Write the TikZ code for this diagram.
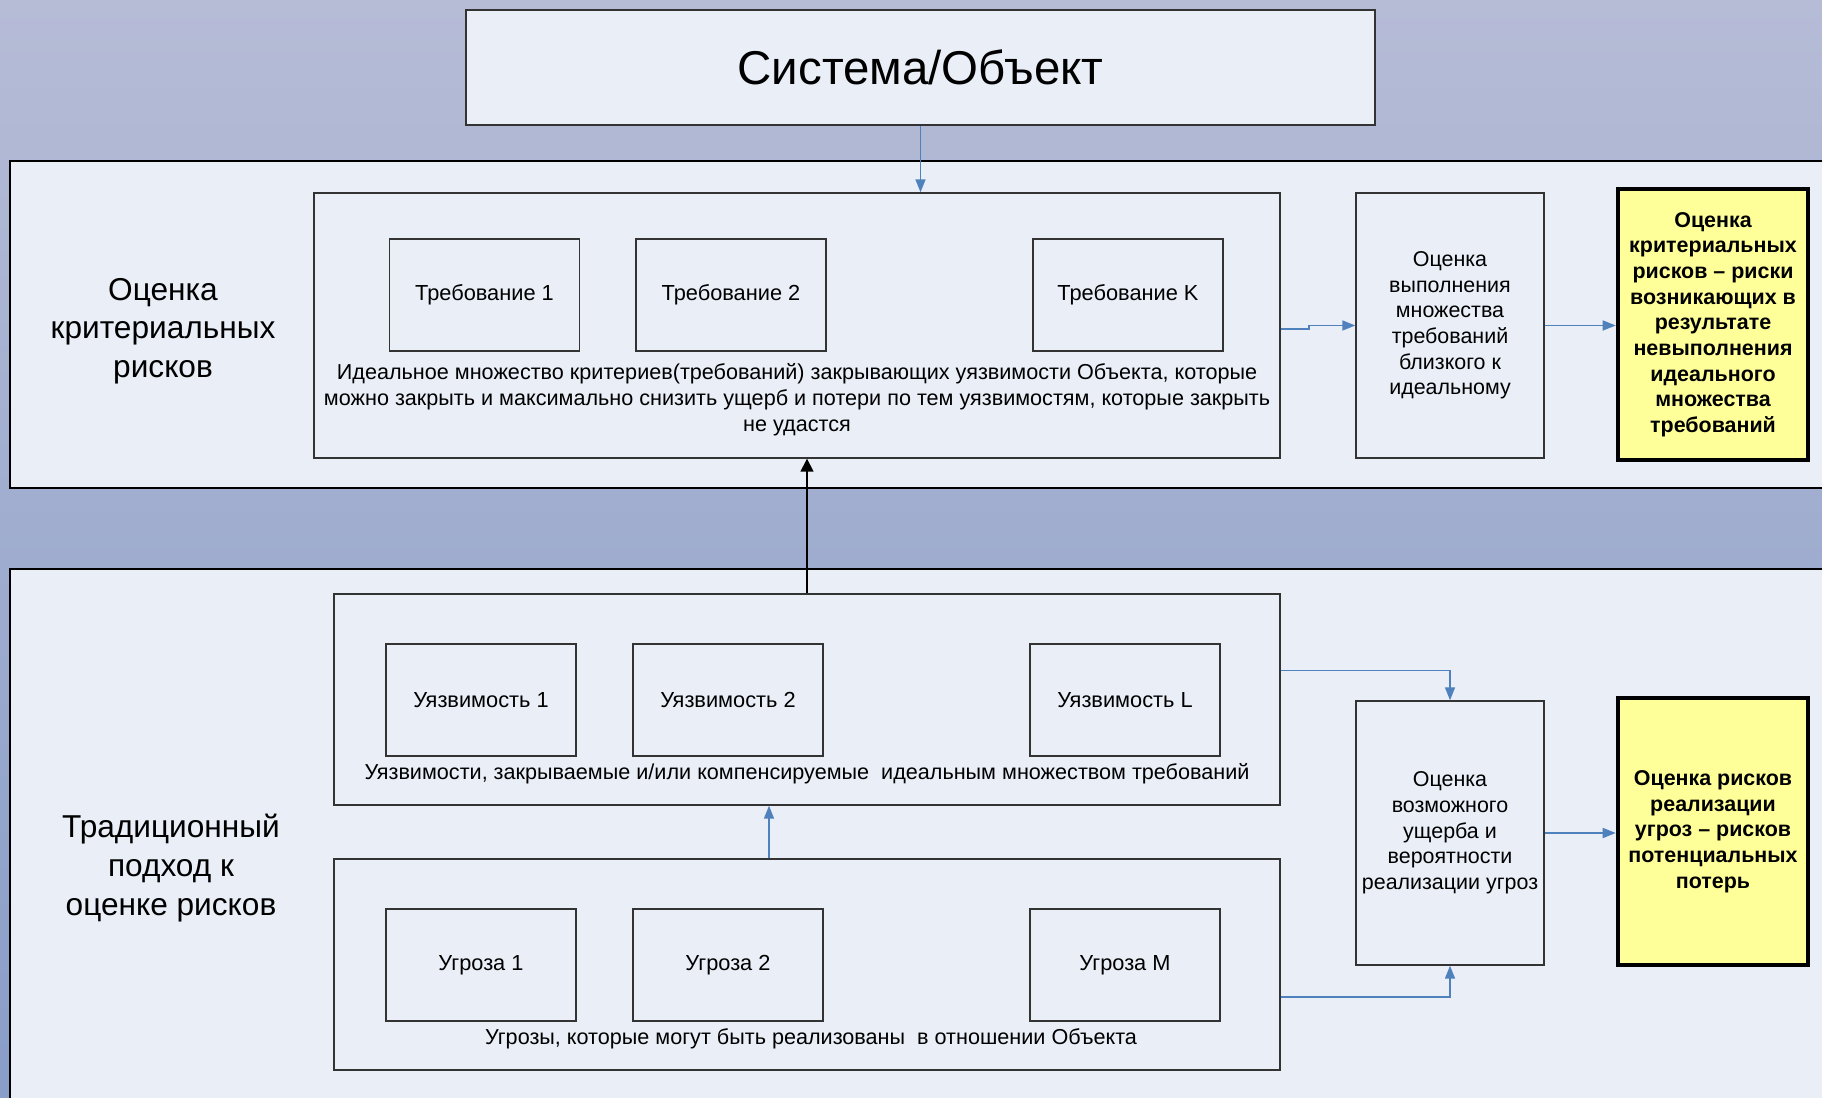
\documentclass[tikz,border=0pt]{standalone}
\usepackage{fontspec}
\setmainfont{Liberation Sans}
\usetikzlibrary{arrows.meta,positioning,calc}
\definecolor{bgtop}{RGB}{182,188,214}
\definecolor{bgbot}{RGB}{136,157,200}
\definecolor{panelfill}{RGB}{233,238,247}
\definecolor{linkblue}{RGB}{79,129,189}
\definecolor{riskyellow}{RGB}{255,255,153}
\tikzstyle{panel}=[draw=black,line width=0.75pt,fill=panelfill]
\tikzstyle{groupbox}=[rectangle,draw=black!80,line width=0.4pt,inner sep=0pt]
\tikzstyle{itembox}=[rectangle,draw=black!80,line width=0.4pt,minimum width=1.9cm,minimum height=1.12cm,font=\fontsize{6.2}{7.4}\selectfont]
\tikzstyle{evalbox}=[rectangle,draw=black!80,line width=0.4pt,minimum width=1.88cm,inner sep=1pt,align=center,font=\fontsize{6.1}{7.3}\selectfont]
\tikzstyle{riskbox}=[rectangle,draw=black,line width=1.3pt,fill=riskyellow,minimum width=1.9cm,inner sep=1pt,align=center,font=\fontsize{6.1}{7.3}\selectfont\bfseries]
\tikzstyle{caption}=[align=center,inner sep=0pt,font=\fontsize{6.15}{7.4}\selectfont]
\tikzstyle{sidelabel}=[align=center,font=\fontsize{9}{11}\selectfont]
\tikzstyle{link}=[draw=linkblue,line width=0.45pt,-{Triangle[length=1.3mm,width=1mm]}]

\begin{document}
\begin{tikzpicture}

    \useasboundingbox (0,0) rectangle (18.22,10.97);
    \shade[top color=bgtop, bottom color=bgbot] (0,0) rectangle (18.22,10.97);

    \draw[panel] (0.10,9.36) rectangle (18.40,6.09);
    \draw[panel] (0.10,5.28) rectangle (18.40,-0.20);

    \node[groupbox,fill=panelfill,minimum width=9.09cm,minimum height=1.15cm,font=\fontsize{13.5}{15}\selectfont] (sys) at (9.205,10.295) {Система/Объект};

    \node[sidelabel] (critlabel) at (1.63,7.66) {Оценка\\критериальных\\рисков};
    \node[sidelabel] (tradlabel) at (1.71,2.29) {Традиционный\\подход к\\оценке рисков};

    % criteria block
    \node[groupbox,minimum width=9.66cm,minimum height=2.65cm] (reqset) at (7.97,7.715) {};
    \foreach \pos/ \name / \label in {{(4.845,8.02)/req1/Требование 1},{(7.31,8.02)/req2/Требование 2},{(11.28,8.02)/reqK/Требование K}}
        \node[itembox] (\name) at \pos {\label};
    \node[caption] (reqcap) at (7.97,6.97) {Идеальное множество критериев(требований) закрывающих уязвимости Объекта, которые\\можно закрыть и максимально снизить ущерб и потери по тем уязвимостям, которые закрыть\\не удастся};

    \node[evalbox,minimum height=2.65cm] (evalreq) at (14.50,7.715) {Оценка\\выполнения\\множества\\требований\\близкого к\\идеальному};
    \node[riskbox,minimum height=2.71cm] (critrisk) at (17.13,7.725) {Оценка\\критериальных\\рисков -- риски\\возникающих в\\результате\\невыполнения\\идеального\\множества\\требований};

    % traditional block
    \node[groupbox,minimum width=9.46cm,minimum height=2.11cm] (vulnset) at (8.07,3.975) {};
    \foreach \pos/ \name / \label in {{(4.81,3.97)/vuln1/Уязвимость 1},{(7.28,3.97)/vuln2/Уязвимость 2},{(11.25,3.97)/vulnL/Уязвимость L}}
        \node[itembox] (\name) at \pos {\label};
    \node[caption] (vulncap) at (8.07,3.23) {Уязвимости, закрываемые и/или компенсируемые\ \ идеальным множеством требований};

    \node[groupbox,minimum width=9.46cm,minimum height=2.11cm] (threatset) at (8.07,1.325) {};
    \foreach \pos/ \name / \label in {{(4.81,1.32)/threat1/Угроза 1},{(7.28,1.32)/threat2/Угроза 2},{(11.25,1.32)/threatM/Угроза M}}
        \node[itembox] (\name) at \pos {\label};
    \node[caption] (threatcap) at (8.11,0.585) {Угрозы, которые могут быть реализованы\ \ в отношении Объекта};

    \node[evalbox,minimum height=2.64cm] (evalthr) at (14.50,2.64) {Оценка\\возможного\\ущерба и\\вероятности\\реализации угроз};
    \node[riskbox,minimum height=2.67cm] (riskthr) at (17.13,2.655) {Оценка рисков\\реализации\\угроз -- рисков\\потенциальных\\потерь};

    % connectors
    \draw[link] (sys.south) -- (sys.south |- reqset.north);
    \draw[link] ([yshift=-0.035cm]reqset.east) -- ++(0.28,0) |- (evalreq.west);
    \draw[link] (evalreq.east) -- (evalreq.east -| critrisk.west);
    \draw[line width=0.45pt,-{Triangle[length=1.3mm,width=1.3mm]}] (vulnset.north) -- (vulnset.north |- reqset.south);
    \draw[link] ([xshift=-0.38cm]threatset.north) -- ([xshift=-0.38cm]vulnset.south);
    \draw[link] ([yshift=0.29cm]vulnset.east) -| (evalthr.north);
    \draw[link] ([yshift=-0.325cm]threatset.east) -| (evalthr.south);
    \draw[link] (evalthr.east) -- (evalthr.east -| riskthr.west);

\end{tikzpicture}
\end{document}
